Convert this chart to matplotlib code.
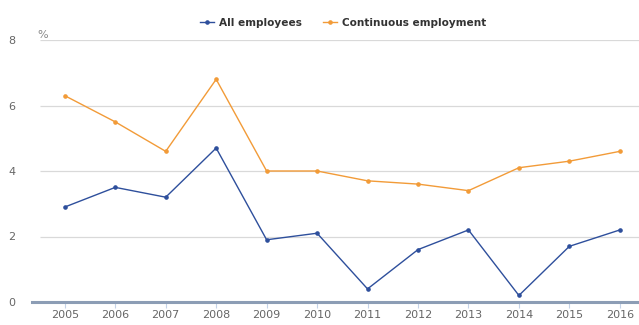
import matplotlib.pyplot as plt
import numpy as np

years = [2005, 2006, 2007, 2008, 2009, 2010, 2011, 2012, 2013, 2014, 2015, 2016]
all_employees = [2.9, 3.5, 3.2, 4.7, 1.9, 2.1, 0.4, 1.6, 2.2, 0.2, 1.7, 2.2]
continuous = [6.3, 5.5, 4.6, 6.8, 4.0, 4.0, 3.7, 3.6, 3.4, 4.1, 4.3, 4.6]
y_ticks = [0, 2, 4, 6, 8]

BLUE = "#2e4f9c"
ORANGE = "#f29b38"

fig = plt.figure(figsize=(6.39, 3.25), dpi=100)
ax = fig.add_axes([32 / 639, 1 - 302 / 325, 1 - 32 / 639, (302 - 40) / 325])

ax.plot(years, all_employees, color=BLUE, linewidth=1.0, marker="o", markersize=2.3,
        label="All employees")
ax.plot(years, continuous, color=ORANGE, linewidth=1.0, marker="o", markersize=2.3,
        label="Continuous employment")

ax.set_xlim(2004.35, 2016.38)
ax.set_ylim(0, 8)
ax.set_xticks(years)
ax.set_yticks(y_ticks)

# light horizontal gridlines starting a bit right of the axis start
ax.hlines(y_ticks[1:], 2004.5, 2016.38, color="#d9d9d9", linewidth=0.9, zorder=0)
for side in ["top", "right", "left"]:
    ax.spines[side].set_visible(False)
ax.spines["bottom"].set_color("#8c9db5")
ax.spines["bottom"].set_linewidth(2.2)

ax.tick_params(axis="y", length=0, pad=12, labelsize=8, labelcolor="#666666")
ax.tick_params(axis="x", length=4, width=0.8, color="#c5d3e8", pad=2,
               labelsize=8, labelcolor="#666666")

ax.text(2004.46, 8.05, "%", fontsize=8, color="#888888", va="baseline", ha="left")

leg = fig.legend(loc="upper center", bbox_to_anchor=(0.537, 0.975), ncol=2, frameon=False,
                 handlelength=1.3, columnspacing=2.0, handletextpad=0.5,
                 prop={"weight": "bold", "size": 7.6})
for t in leg.get_texts():
    t.set_color("#333333")

fig.savefig("out.png", dpi=100)
